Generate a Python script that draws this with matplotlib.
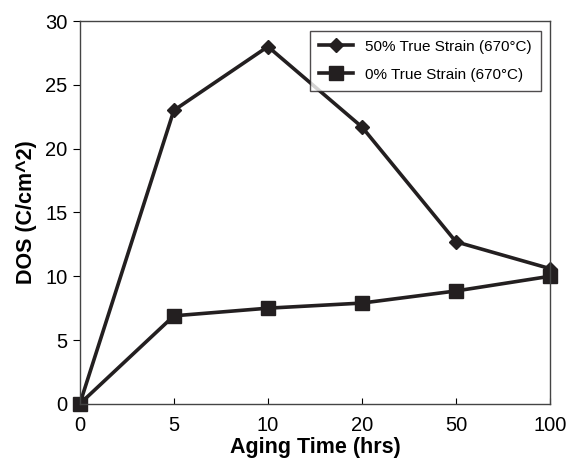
import numpy as np
import matplotlib
matplotlib.use('Agg')
import matplotlib.pyplot as plt

plt.rcParams['font.family'] = ['Liberation Sans', 'DejaVu Sans']

# dados
tempos = ['0', '5', '10', '20', '50', '100']
dos_50 = [0, 23.0, 28.0, 21.7, 12.7, 10.6]
dos_0 = [0, 6.9, 7.5, 7.9, 8.85, 10.0]

fig = plt.figure(figsize=(5.7, 4.68), dpi=100)
ax = fig.add_axes([0.14, 0.137, 0.825, 0.818])

x = np.arange(len(tempos))
ax.plot(x, dos_50, color='#231f20', lw=2.6, marker='D', ms=7, label='50% True Strain (670°C)')
ax.plot(x, dos_0, color='#231f20', lw=2.6, marker='s', ms=10, label='0% True Strain (670°C)')

ax.set_xlim(0, 5)
ax.set_ylim(0, 30)
ax.set_xticks(x)
ax.set_xticklabels(tempos)
ax.set_yticks(range(0, 31, 5))
ax.tick_params(axis='x', direction='in', labelsize=14.5, pad=9, length=4)
ax.tick_params(axis='y', direction='out', labelsize=14.5, length=5, pad=4)
for s in ax.spines.values():
    s.set_color('#444444')
    s.set_linewidth(1)

ax.set_xlabel('Aging Time (hrs)', fontsize=15.5, fontweight='bold', labelpad=1)
ax.set_ylabel('DOS (C/cm^2)', fontsize=15.5, fontweight='bold', labelpad=6)

leg = ax.legend(loc='upper right', fontsize=11, fancybox=False, edgecolor='#231f20',
                handlelength=2.2, borderpad=0.6, labelspacing=0.9,
                bbox_to_anchor=(0.997, 0.995))
leg.get_frame().set_linewidth(1)
for ln in ax.lines:
    ln.set_clip_on(False)

fig.savefig('out.png', dpi=100)
